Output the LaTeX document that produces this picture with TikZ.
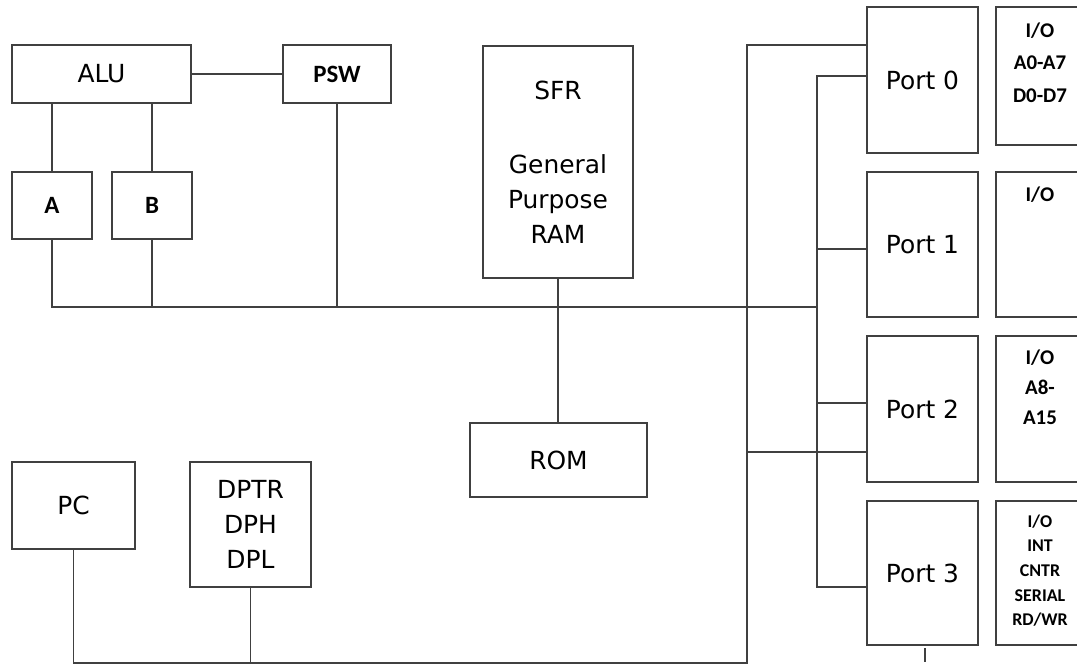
\documentclass[tikz,border=0pt]{standalone}
\usepackage{fontspec}
\setmainfont{DejaVu Sans}
\newfontfamily\iofont{Carlito}
\usetikzlibrary{calc}
\tikzset{
	unit/.style={draw=black!75, line width=1.9bp, inner sep=0pt, outer sep=0pt, align=center, font=\fontsize{25}{35}\selectfont},
	reg/.style={font=\iofont\bfseries\fontsize{25}{28}\selectfont},
	iotext/.style={align=center, inner sep=0pt, font=\iofont\bfseries\fontsize{21}{32.5}\selectfont},
	wire/.style={draw=black!75, line width=1.9bp}
}

\begin{document}
\begin{tikzpicture}[x=1bp, y=-1bp]
		%%%%% START %%%%%
		\useasboundingbox (0,0) rectangle (1077,665);
		
		\node[unit, minimum width=179bp, minimum height=58bp] (alu) at (101.5,74) {ALU};
		\node[unit, reg, minimum width=108bp, minimum height=58bp] (psw) at (337,74) {PSW};
		\node[unit, reg, minimum width=80bp, minimum height=67bp] (a) at (52,205.5) {A};
		\node[unit, reg, minimum width=80bp, minimum height=67bp] (b) at (152,205.5) {B};
		
		\node[unit, minimum width=150bp, minimum height=232bp] (sfr) at (558,162) {SFR\\[39bp]General\\Purpose\\RAM};
		\node[unit, minimum width=177bp, minimum height=74bp] (rom) at (558.5,460) {ROM};
		
		\node[unit, minimum width=123bp, minimum height=87bp] (pc) at (73.5,505.5) {PC};
		\node[unit, minimum width=121bp, minimum height=125bp] (dptr) at (250.5,524.5) {DPTR\\DPH\\DPL};
		
		\foreach \i/\y/\h in {0/80/146bp, 1/244.5/145bp, 2/409/146bp, 3/573/144bp}
			\node[unit, minimum width=111bp, minimum height=\h] (port\i) at (922.5,\y) {Port \i};
		\foreach \i/\y/\h in {0/76/138bp, 1/244.5/145bp, 2/409/146bp, 3/573/144bp}
			\node[unit, minimum width=88bp, minimum height=\h] (io\i) at (1040,\y) {};
		
		\node[iotext] (io0txt) at (1040,62.5) {I/O\\A0-A7\\D0-D7};
		\node[iotext] (io1txt) at (1040,195) {I/O};
		\node[iotext, font=\iofont\bfseries\fontsize{21}{30}\selectfont] (io2txt) at (1040,387) {I/O\\A8-\\A15};
		\node[iotext, font=\iofont\bfseries\fontsize{18}{24.75}\selectfont] (io3txt) at (1040,570.5) {I/O\\INT\\CNTR\\SERIAL\\RD/WR};
		
		% bus corners
		\coordinate (busA) at (747,45);
		\coordinate (busB) at (747,663);
		\coordinate (busC) at (817,76);
		\coordinate (busD) at (817,587);
		\coordinate (busE) at (747,452);
		\coordinate (busF) at (817,307);
		\coordinate (j1) at (817,249);
		\coordinate (j2) at (817,403);
		\coordinate (tick) at (925,662);
		
		\draw[wire] (alu) -- (psw);
		\draw[wire] (a.north) -- (a.north |- alu.south);
		\draw[wire] (b.north) -- (b.north |- alu.south);
		\draw[wire] (a.south) |- (busF);
		\draw[wire] (b.south) -- (b.south |- busF);
		\draw[wire] (psw.south) -- (psw.south |- busF);
		\draw[wire] (sfr.south) -- (sfr.south |- rom.north);
		
		\draw[wire] (busA -| port0.west) -- (busA) -- (busB) -| (pc.south);
		\draw[wire] (dptr.south) -- (dptr.south |- busB);
		\draw[wire] (busE) -- (busE -| port2.west);
		\draw[wire] (busC -| port0.west) -- (busC) -- (busD) -- (busD -| port3.west);
		\draw[wire] (j1) -- (j1 -| port1.west);
		\draw[wire] (j2) -- (j2 -| port2.west);
		\draw[wire, line width=1.2bp, shorten <=3bp] (tick |- port3.south) -- (tick);
		
		%%%%% END %%%%%
	\end{tikzpicture}
\end{document}
